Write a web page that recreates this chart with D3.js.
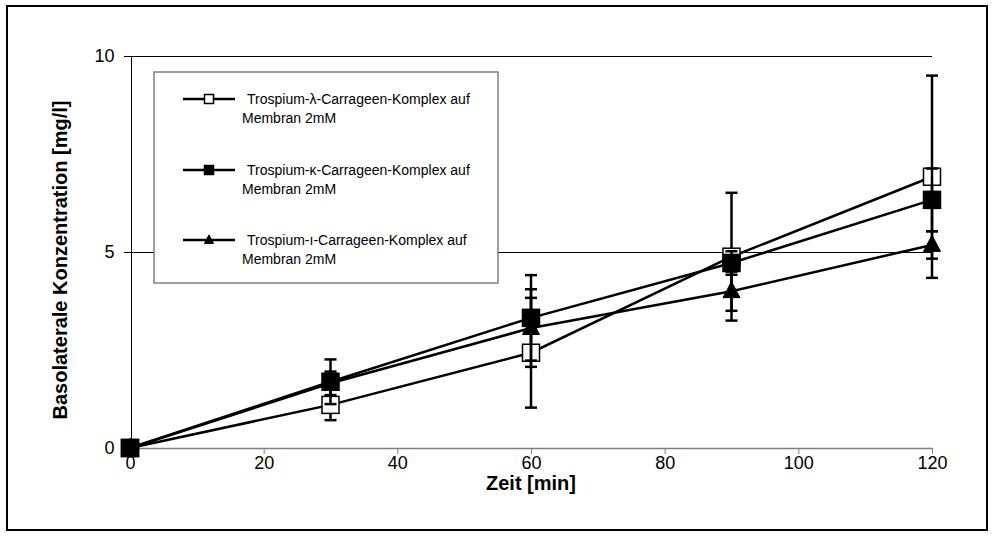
<!DOCTYPE html>
<html>
<head>
<meta charset="utf-8">
<script src="https://cdn.jsdelivr.net/npm/d3@7"></script>
<style>
  html, body { margin: 0; padding: 0; background: #fff; }
  svg { display: block; font-family: "Liberation Sans", Arial, sans-serif; }
</style>
</head>
<body>
<svg id="chart" width="995" height="536"></svg>
<script>
// Zeitpunkte [min]
const times = [0, 30, 60, 90, 120];

// Basolaterale Konzentration [mg/l] und Standardabweichung je Komplex
const lambdaValues = [0, 1.10, 2.43, 4.88, 6.92];
const lambdaErrors = [0, 0.39, 1.40, 1.63, 2.58];
const kappaValues  = [0, 1.69, 3.32, 4.72, 6.33];
const kappaErrors  = [0, 0.57, 1.09, 0.30, 0.80];
const iotaValues   = [0, 1.65, 3.06, 4.00, 5.18];
const iotaErrors   = [0, 0.30, 0.99, 0.50, 0.35];

const seriesNames = [
  ["Trospium-\u03bb-Carrageen-Komplex auf", "Membran 2mM"],
  ["Trospium-\u03ba-Carrageen-Komplex auf", "Membran 2mM"],
  ["Trospium-\u0131-Carrageen-Komplex auf", "Membran 2mM"]
];
const markerTypes = ["openSquare", "filledSquare", "triangle"];

const xTicks = [0, 20, 40, 60, 80, 100, 120];
const yTicks = [0, 5, 10];

const series = [
  { name: seriesNames[0], values: lambdaValues, errors: lambdaErrors, marker: markerTypes[0] },
  { name: seriesNames[1], values: kappaValues,  errors: kappaErrors,  marker: markerTypes[1] },
  { name: seriesNames[2], values: iotaValues,   errors: iotaErrors,   marker: markerTypes[2] }
];

const svg = d3.select("#chart");

// Rahmen um die gesamte Grafik
svg.append("rect")
  .attr("x", 7).attr("y", 6)
  .attr("width", 980).attr("height", 524)
  .attr("fill", "#fff").attr("stroke", "#000").attr("stroke-width", 2);

const x = d3.scaleLinear().domain([0, 120]).range([130, 932]);
const y = d3.scaleLinear().domain([0, 10]).range([448, 56]);

// Horizontale Gitterlinien
svg.append("g")
  .selectAll("line")
  .data(yTicks.filter(t => t > 0))
  .join("line")
  .attr("x1", x(0)).attr("x2", x(120))
  .attr("y1", d => y(d) + 0.5).attr("y2", d => y(d) + 0.5)
  .attr("stroke", "#000").attr("stroke-width", 1)
  .attr("shape-rendering", "crispEdges");

// x-Achse
const xAxis = svg.append("g")
  .attr("transform", `translate(0,${y(0)})`)
  .call(d3.axisBottom(x).tickValues(xTicks).tickSize(6).tickPadding(2).tickSizeOuter(0));
xAxis.select(".domain").attr("stroke", "#808080").attr("stroke-width", 1.5);
xAxis.selectAll(".tick line").attr("stroke", "#808080").attr("stroke-width", 1);
xAxis.selectAll(".tick text")
  .attr("font-size", 18).attr("font-family", "Liberation Sans, Arial, sans-serif").attr("fill", "#000");

// y-Achse
const yAxis = svg.append("g")
  .attr("transform", `translate(${x(0) + 0.5},0)`)
  .call(d3.axisLeft(y).tickValues(yTicks).tickSize(7).tickPadding(9).tickSizeOuter(0));
yAxis.select(".domain").attr("stroke", "#000").attr("stroke-width", 1).attr("shape-rendering", "crispEdges");
yAxis.selectAll(".tick line").attr("stroke", "#000").attr("stroke-width", 1).attr("shape-rendering", "crispEdges");
yAxis.selectAll(".tick text")
  .attr("font-size", 18).attr("font-family", "Liberation Sans, Arial, sans-serif").attr("fill", "#000");

// Achsentitel
svg.append("text")
  .attr("x", (x(0) + x(120)) / 2).attr("y", 490)
  .attr("text-anchor", "middle")
  .attr("font-size", 20).attr("font-weight", "bold")
  .text("Zeit [min]");

svg.append("text")
  .attr("transform", `translate(67,${y(5) + 8}) rotate(-90)`)
  .attr("text-anchor", "middle")
  .attr("font-size", 20).attr("font-weight", "bold")
  .text("Basolaterale Konzentration [mg/l]");

// Marker-Symbole
function drawMarker(g, type, cx, cy, size) {
  if (type === "triangle") {
    const h = size * 0.95, w = size;
    g.append("path")
      .attr("d", `M${cx},${cy - h * 0.6} L${cx + w / 2},${cy + h * 0.4} L${cx - w / 2},${cy + h * 0.4} Z`)
      .attr("fill", "#000").attr("stroke", "#000").attr("stroke-width", 1);
  } else {
    g.append("rect")
      .attr("x", cx - size / 2).attr("y", cy - size / 2)
      .attr("width", size).attr("height", size)
      .attr("fill", type === "openSquare" ? "#fff" : "#000")
      .attr("stroke", "#000").attr("stroke-width", 1.5);
  }
}

const line = d3.line().x((d, i) => x(times[i])).y(d => y(d));
const plot = svg.append("g");

series.forEach(s => {
  const g = plot.append("g");
  // Fehlerbalken
  s.values.forEach((v, i) => {
    const e = s.errors[i];
    if (!e) return;
    const cx = x(times[i]);
    g.append("line")
      .attr("x1", cx).attr("x2", cx)
      .attr("y1", y(v + e)).attr("y2", y(v - e))
      .attr("stroke", "#000").attr("stroke-width", 2.5);
    [v + e, v - e].forEach(t => {
      g.append("line")
        .attr("x1", cx - 6).attr("x2", cx + 6)
        .attr("y1", y(t)).attr("y2", y(t))
        .attr("stroke", "#000").attr("stroke-width", 2.5);
    });
  });
  // Verbindungslinie
  g.append("path")
    .datum(s.values)
    .attr("d", line)
    .attr("fill", "none").attr("stroke", "#000").attr("stroke-width", 2.5);
  // Messpunkte
  s.values.forEach((v, i) => {
    drawMarker(g, s.marker, x(times[i]), y(v), 17);
  });
});

// Legende
const legend = svg.append("g");
legend.append("rect")
  .attr("x", 154).attr("y", 72)
  .attr("width", 344).attr("height", 211)
  .attr("fill", "#fff").attr("stroke", "#808080").attr("stroke-width", 1.5);

const legendRows = [99, 170, 240];
series.forEach((s, k) => {
  const ly = legendRows[k];
  legend.append("line")
    .attr("x1", 183).attr("x2", 235)
    .attr("y1", ly).attr("y2", ly)
    .attr("stroke", "#000").attr("stroke-width", 2.5);
  drawMarker(legend, s.marker, 209, ly, 9);
  const t = legend.append("text")
    .attr("font-size", 14).attr("fill", "#000");
  t.append("tspan").attr("x", 247).attr("y", ly + 5).text(s.name[0]);
  t.append("tspan").attr("x", 242).attr("y", ly + 24).text(s.name[1]);
});
</script>
</body>
</html>
